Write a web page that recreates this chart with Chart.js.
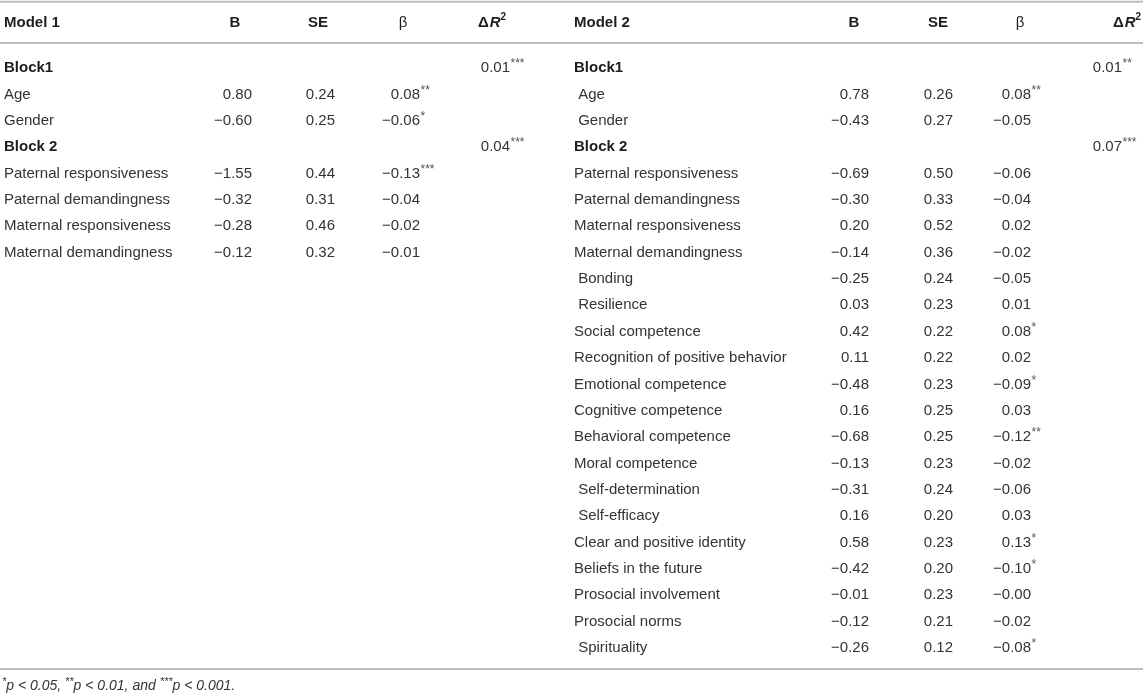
<!DOCTYPE html>
<html lang="en">
<head>
  <meta charset="UTF-8">
  <title>Hierarchical regression, Model 1 and Model 2</title>
  <script src="https://cdn.jsdelivr.net/npm/chart.js"></script>
  <style>
    body { margin: 0; background: #fff; }
    #wrap { width: 1143px; height: 696px; }
  </style>
</head>
<body>
<div id="wrap"><canvas id="tabla"></canvas></div>
<script>
// ---- data ----
const colHeaders = ['B', 'SE', 'β'];

const model1Rows = ['Block1', 'Age', 'Gender', 'Block 2', 'Paternal responsiveness',
  'Paternal demandingness', 'Maternal responsiveness', 'Maternal demandingness'];
const model1B = [null, 0.80, -0.60, null, -1.55, -0.32, -0.28, -0.12];
const model1SE = [null, 0.24, 0.25, null, 0.44, 0.31, 0.46, 0.32];
const model1Beta = [null, 0.08, -0.06, null, -0.13, -0.04, -0.02, -0.01];
const model1BetaSig = ['', '**', '*', '', '***', '', '', ''];
const model1R2 = [0.01, null, null, 0.04, null, null, null, null];
const model1R2Sig = ['***', '', '', '***', '', '', '', ''];

const model2Rows = ['Block1', ' Age', ' Gender', 'Block 2', 'Paternal responsiveness',
  'Paternal demandingness', 'Maternal responsiveness', 'Maternal demandingness',
  ' Bonding', ' Resilience', 'Social competence', 'Recognition of positive behavior',
  'Emotional competence', 'Cognitive competence', 'Behavioral competence', 'Moral competence',
  ' Self-determination', ' Self-efficacy', 'Clear and positive identity', 'Beliefs in the future',
  'Prosocial involvement', 'Prosocial norms', ' Spirituality'];
const model2B = [null, 0.78, -0.43, null, -0.69, -0.30, 0.20, -0.14, -0.25, 0.03, 0.42, 0.11,
  -0.48, 0.16, -0.68, -0.13, -0.31, 0.16, 0.58, -0.42, -0.01, -0.12, -0.26];
const model2SE = [null, 0.26, 0.27, null, 0.50, 0.33, 0.52, 0.36, 0.24, 0.23, 0.22, 0.22,
  0.23, 0.25, 0.25, 0.23, 0.24, 0.20, 0.23, 0.20, 0.23, 0.21, 0.12];
const model2Beta = [null, 0.08, -0.05, null, -0.06, -0.04, 0.02, -0.02, -0.05, 0.01, 0.08, 0.02,
  -0.09, 0.03, -0.12, -0.02, -0.06, 0.03, 0.13, -0.10, -0, -0.02, -0.08];
const model2BetaSig = ['', '**', '', '', '', '', '', '', '', '', '*', '',
  '*', '', '**', '', '', '', '*', '*', '', '', '*'];
const model2R2 = [0.01, null, null, 0.07];
const model2R2Sig = ['**', '', '', '***'];

const footnote = [['*', 'p < 0.05, '], ['**', 'p < 0.01, and '], ['***', 'p < 0.001.']];

// ---- layout (pixels on x, row units on y) ----
const FONT = "'Liberation Sans', Arial, sans-serif";
// right edge of the numbers in each column
const X = {
  label1: 4, b1: 252, se1: 335, beta1: 420, r2a: 510,
  label2: 574, b2: 869, se2: 953, beta2: 1031, r2b: 1122
};
// centre of the column headings
const HX = { b1: 235, se1: 318, beta1: 403, r2a: 492, b2: 854, se2: 938, beta2: 1020, r2b: 1127 };
const ROW_HEAD = -1.72, LINE_TOP = -2.51, LINE_HEAD = -0.95, LINE_BOTTOM = 22.8, ROW_NOTE = 23.45;

function fmt(v) {
  const neg = v < 0 || Object.is(v, -0);
  return (neg ? '\u2212' : '') + Math.abs(v).toFixed(2);
}

function textSet(rows, x) {
  return {
    data: rows.map((t, i) => ({ x: x, y: i })),
    cells: rows.map(t => ({ text: t, bold: t.startsWith('Block') })),
    kind: 'label', pointRadius: 0, showLine: false
  };
}

function numSet(values, sig, x) {
  const pts = [], cells = [];
  values.forEach((v, i) => {
    if (v === null || v === undefined) return;
    pts.push({ x: x, y: i });
    cells.push({ text: fmt(v), sig: sig ? (sig[i] || '') : '' });
  });
  return { data: pts, cells: cells, kind: 'num', pointRadius: 0, showLine: false };
}

function headSet(xs, labels) {
  return {
    data: xs.map(x => ({ x: x, y: ROW_HEAD })),
    cells: labels.map(t => ({ text: t, bold: true })),
    kind: 'head', pointRadius: 0, showLine: false
  };
}

function rule(y) {
  return {
    type: 'line', data: [{ x: 0, y: y }, { x: 1143, y: y }],
    borderColor: '#bcbcbc', borderWidth: 2, pointRadius: 0, showLine: true
  };
}

const datasets = [
  rule(LINE_TOP), rule(LINE_HEAD), rule(LINE_BOTTOM),
  { data: [{ x: X.label1, y: ROW_HEAD }, { x: X.label2, y: ROW_HEAD }],
    cells: [{ text: 'Model 1', bold: true }, { text: 'Model 2', bold: true }],
    kind: 'label', pointRadius: 0, showLine: false },
  headSet([HX.b1, HX.se1, HX.beta1, HX.b2, HX.se2, HX.beta2], colHeaders.concat(colHeaders)),
  { data: [{ x: HX.r2a, y: ROW_HEAD }, { x: HX.r2b, y: ROW_HEAD }],
    cells: [{}, {}], kind: 'r2head', pointRadius: 0, showLine: false },
  textSet(model1Rows, X.label1),
  numSet(model1B, null, X.b1),
  numSet(model1SE, null, X.se1),
  numSet(model1Beta, model1BetaSig, X.beta1),
  numSet(model1R2, model1R2Sig, X.r2a),
  textSet(model2Rows, X.label2),
  numSet(model2B, null, X.b2),
  numSet(model2SE, null, X.se2),
  numSet(model2Beta, model2BetaSig, X.beta2),
  numSet(model2R2, model2R2Sig, X.r2b),
  { data: [{ x: 2, y: ROW_NOTE }], cells: [{}], kind: 'note', pointRadius: 0, showLine: false }
];

// draws the text of every cell at the point the scales gave it
const cellText = {
  id: 'cellText',
  afterDatasetsDraw(chart) {
    const ctx = chart.ctx;
    ctx.save();
    ctx.textBaseline = 'middle';
    chart.data.datasets.forEach((ds, i) => {
      if (!ds.kind) return;
      chart.getDatasetMeta(i).data.forEach((pt, j) => {
        const c = ds.cells[j], x = pt.x, y = pt.y;
        if (ds.kind === 'label') {
          ctx.font = (c.bold ? 'bold ' : '') + '15px ' + FONT;
          ctx.fillStyle = c.bold ? '#1e1e1e' : '#333';
          ctx.textAlign = 'left';
          ctx.fillText(c.text, x, y);
        } else if (ds.kind === 'head') {
          ctx.font = (c.text === 'β' ? '' : 'bold ') + '15px ' + FONT;
          ctx.fillStyle = '#1e1e1e';
          ctx.textAlign = 'center';
          ctx.fillText(c.text, x, y);
        } else if (ds.kind === 'r2head') {
          ctx.fillStyle = '#1e1e1e';
          ctx.textAlign = 'left';
          const f1 = 'bold 15px ' + FONT, f2 = 'italic bold 15px ' + FONT, f3 = 'bold 10px ' + FONT;
          ctx.font = f1; const w1 = ctx.measureText('\u0394').width;
          ctx.font = f2; const w2 = ctx.measureText('R').width;
          ctx.font = f3; const w3 = ctx.measureText('2').width;
          let sx = x - (w1 + w2 + w3 + 1) / 2;
          ctx.font = f1; ctx.fillText('\u0394', sx, y); sx += w1 + 1;
          ctx.font = f2; ctx.fillText('R', sx, y); sx += w2;
          ctx.font = f3; ctx.fillText('2', sx, y - 5);
        } else if (ds.kind === 'num') {
          ctx.font = '15px ' + FONT;
          ctx.fillStyle = '#333';
          ctx.textAlign = 'right';
          ctx.fillText(c.text, x, y);
          if (c.sig) {
            ctx.font = '12px ' + FONT;
            ctx.fillStyle = '#555';
            ctx.textAlign = 'left';
            ctx.fillText(c.sig, x + 0.5, y - 4);
          }
        } else if (ds.kind === 'note') {
          ctx.fillStyle = '#333';
          ctx.textAlign = 'left';
          let sx = x;
          footnote.forEach(part => {
            ctx.font = 'italic 11px ' + FONT;
            ctx.fillText(part[0], sx, y - 4);
            sx += ctx.measureText(part[0]).width;
            ctx.font = 'italic 14px ' + FONT;
            ctx.fillText(part[1], sx, y);
            sx += ctx.measureText(part[1]).width;
          });
        }
      });
    });
    ctx.restore();
  }
};

new Chart(document.getElementById('tabla'), {
  type: 'scatter',
  data: { datasets: datasets },
  options: {
    responsive: true,
    maintainAspectRatio: false,
    animation: false,
    events: [],
    layout: { padding: 0 },
    plugins: { legend: { display: false }, tooltip: { enabled: false } },
    scales: {
      x: { type: 'linear', min: 0, max: 1143, display: false },
      y: { type: 'linear', min: -2.58, max: 23.82, reverse: true, display: false }
    }
  },
  plugins: [cellText]
});
</script>
</body>
</html>
